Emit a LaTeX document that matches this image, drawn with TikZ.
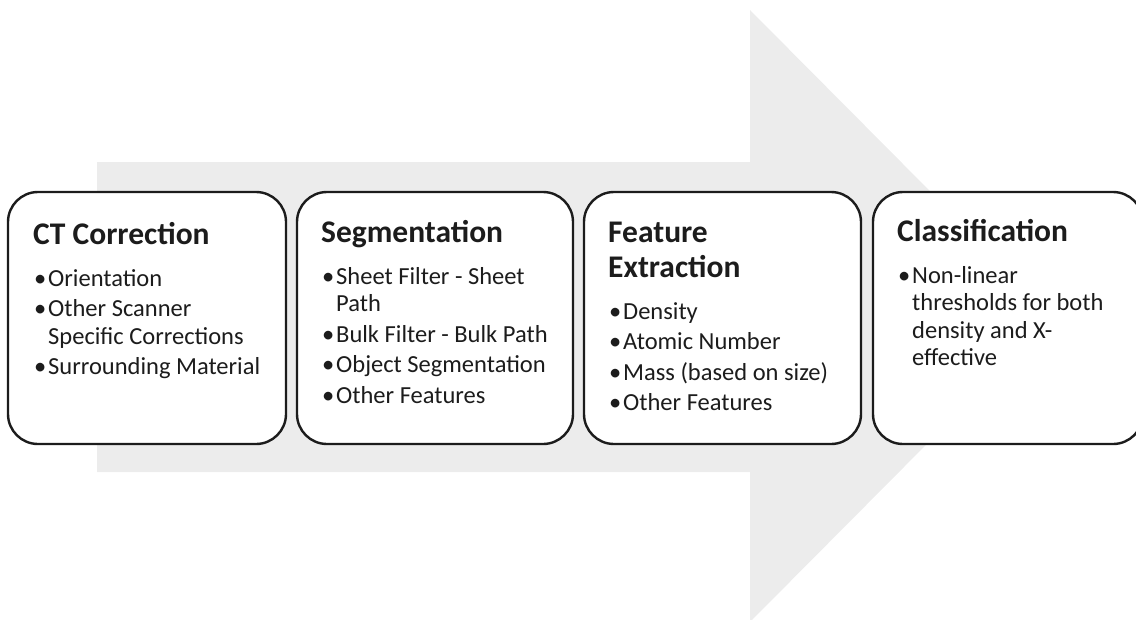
\documentclass[tikz,border=0pt]{standalone}
\usepackage{fontspec}
\setmainfont{Carlito}
\definecolor{arrowgrey}{HTML}{ECECEC}
\definecolor{ink}{HTML}{1C1C1C}

% fonts for the stage titles and the bullet lists
\newcommand{\stagetitle}{\fontsize{31.5}{35}\selectfont\bfseries}
\newcommand{\stagebody}{\fontsize{24.5}{27.5}\selectfont}
% one bullet item, later lines hang under the text
\newcommand{\bitem}[1]{\par\vspace{3pt}\hangindent=15pt\hangafter=1\noindent
  \makebox[15pt][l]{\hspace{1pt}\textbullet}#1}
% a stage text block: title, then the list; its baseline is the first line's
\newcommand{\stagetext}[2]{\vtop{\hsize=255pt\parindent=0pt\parskip=0pt
  \leftskip=0pt\rightskip=0pt plus 1fil
  {\stagetitle #1\par}\stagebody\vspace{11.5pt}#2\par}}

\begin{document}
\begin{tikzpicture}[x=1pt,y=-1pt,
  stagebox/.style={draw=ink, line width=2.4pt, fill=white,
    rounded corners=30pt, minimum height=252pt, inner sep=0pt},
  stagelabel/.style={anchor=base west, inner sep=0pt, text=ink}]
\useasboundingbox (0,0) rectangle (1136,619);
\clip (0,0) rectangle (1136,619);

% broad background arrow
\fill[arrowgrey] (97,162) -- (750,162) -- (750,10) -- (1054,316)
  -- (750,622) -- (750,472) -- (97,472) -- cycle;

% the four stages
\node[stagebox, minimum width=278pt] (b1) at (147,318) {};
\node[stagebox, minimum width=276pt] (b2) at (435,318) {};
\node[stagebox, minimum width=277pt] (b3) at (722.5,318) {};
\node[stagebox, minimum width=270pt] (b4) at (1008,318) {};

\node[stagelabel] (t1) at (33,244) {\stagetext{CT Correction}{%
  \bitem{Orientation}
  \bitem{Other Scanner\break Specific Corrections}
  \bitem{Surrounding Material}}};

\node[stagelabel] (t2) at (321,242) {\stagetext{Segmentation}{%
  \bitem{Sheet Filter - Sheet\break Path}
  \bitem{Bulk Filter - Bulk Path}
  \bitem{Object Segmentation}
  \bitem{Other Features}}};

\node[stagelabel] (t3) at (608,242) {\stagetext{Feature\break Extraction}{%
  \bitem{Density}
  \bitem{Atomic Number}
  \bitem{Mass (based on size)}
  \bitem{Other Features}}};

\node[stagelabel] (t4) at (897,241) {\stagetext{Classification}{%
  \bitem{Non-linear\break thresholds for both\break density and X-\break effective}}};
\end{tikzpicture}
\end{document}
